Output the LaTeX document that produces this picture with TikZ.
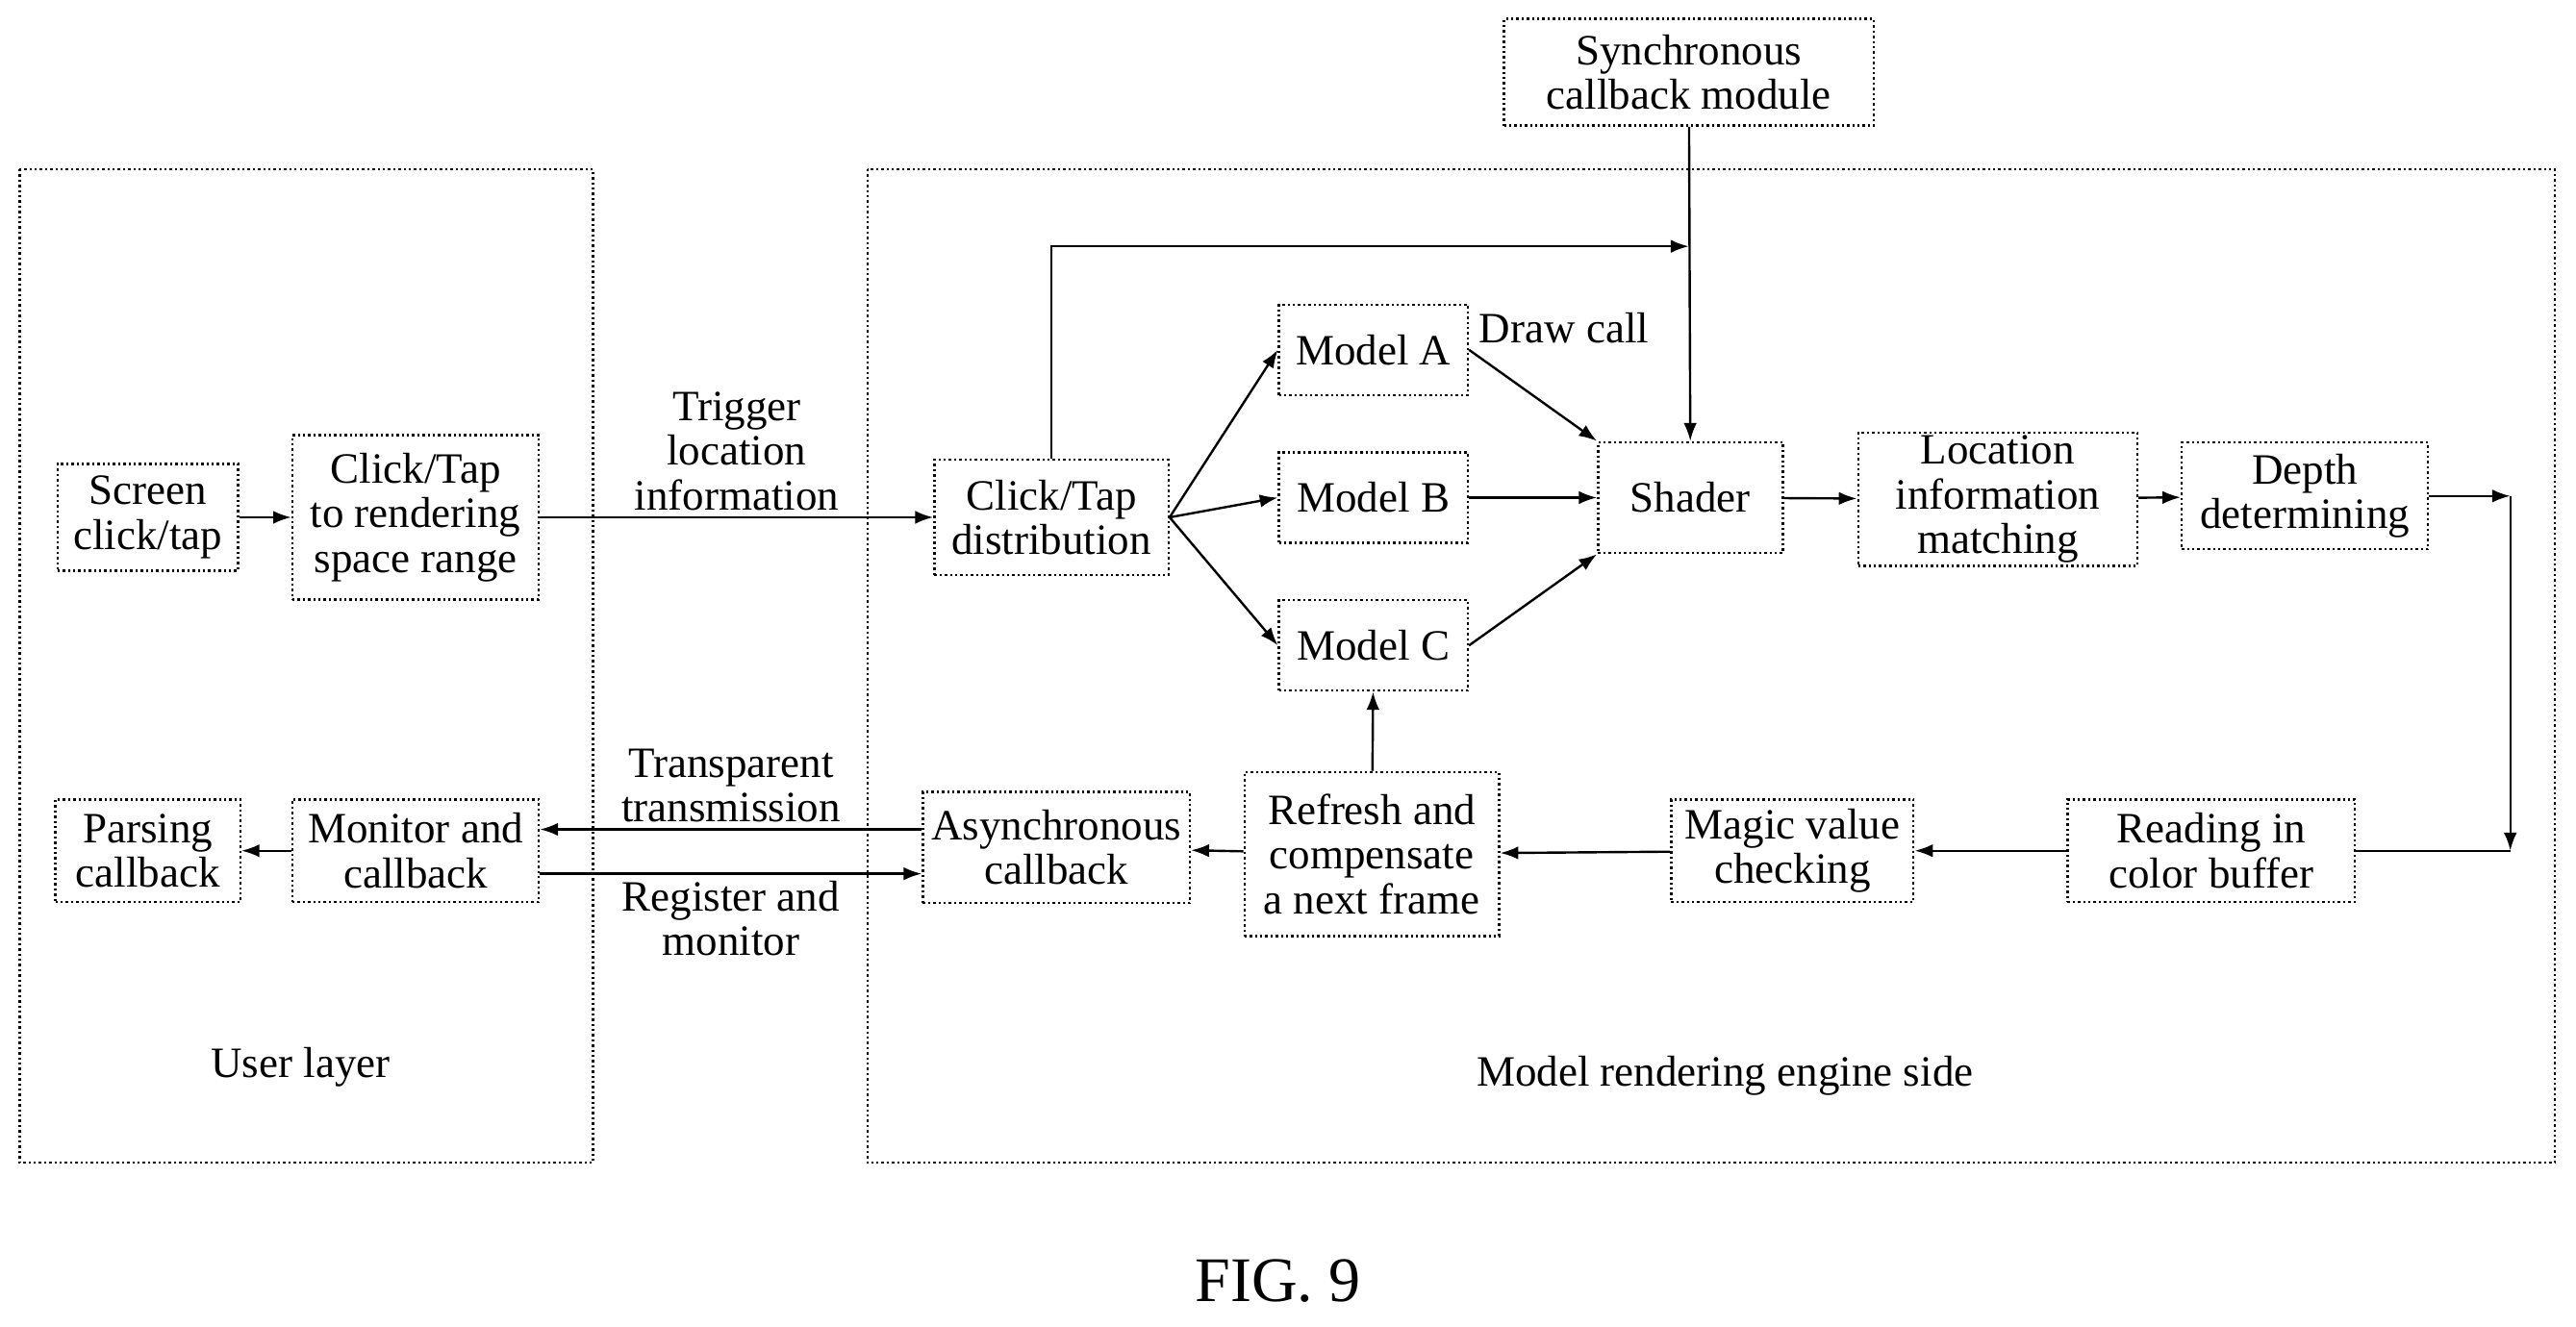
\documentclass[tikz,border=0pt]{standalone}
\usepackage{fontspec}
\setmainfont{Liberation Serif}
\usetikzlibrary{arrows.meta, positioning, calc}
\tikzset{
  box/.style={draw, densely dotted, thick, align=center, inner sep=1pt, font=\fontsize{15}{15.5}\selectfont},
  frame/.style={draw, densely dotted, thick},
  lbl/.style={align=center, inner sep=2pt, font=\fontsize{15}{15.5}\selectfont},
  arr/.style={-{Latex[length=2.2mm,width=1.6mm]}, thick}
}
\begin{document}
\begin{tikzpicture}[x=0.02cm, y=-0.02cm]
  \useasboundingbox (0,0) rectangle (1568,808);
  % frames
  \draw[frame] (12,103) rectangle (361,708);
  \draw[frame] (528,103) rectangle (1555,708);
  \node[lbl] (user) at (183,650) {User layer};
  \node[lbl] (engine) at (1050,655) {Model rendering engine side};
  % boxes
  \node[box, minimum width=4.5cm, minimum height=1.3cm] (sync) at (1028,44) {Synchronous\\callback module};
  \node[box, minimum width=2.2cm, minimum height=1.3cm] (screen) at (90,315) {Screen\\click/tap};
  \node[box, minimum width=3cm, minimum height=2cm] (range) at (253,315) {Click/Tap\\to rendering\\space range};
  \node[box, minimum width=2.85cm, minimum height=1.4cm] (dist) at (640,315) {Click/Tap\\distribution};
  \node[box, minimum width=2.3cm, minimum height=1.1cm] (ma) at (836,213) {Model A};
  \node[box, minimum width=2.3cm, minimum height=1.1cm] (mb) at (836,303) {Model B};
  \node[box, minimum width=2.3cm, minimum height=1.1cm] (mc) at (836,393) {Model C};
  \node[box, minimum width=2.25cm, minimum height=1.35cm] (shader) at (1029,303) {Shader};
  \node[box, minimum width=3.4cm, minimum height=1.45cm] (loc) at (1216,304) {Location\\information\\matching};
  \node[box, minimum width=3cm, minimum height=1.3cm] (depth) at (1403,302) {Depth\\determining};
  \node[box, minimum width=3.5cm, minimum height=1.25cm] (read) at (1346,518) {Reading in\\color buffer};
  \node[box, minimum width=2.95cm, minimum height=1.25cm] (magic) at (1091,518) {Magic value\\checking};
  \node[box, minimum width=3.1cm, minimum height=2cm] (refresh) at (835,520) {Refresh and\\compensate\\a next frame};
  \node[box, minimum width=3.25cm, minimum height=1.35cm] (async) at (643,516) {Asynchronous\\callback};
  \node[box, minimum width=3cm, minimum height=1.25cm] (monitor) at (253,518) {Monitor and\\callback};
  \node[box, minimum width=2.25cm, minimum height=1.25cm] (parse) at (90,518) {Parsing\\callback};
  \coordinate (join) at (1028,150);
  \coordinate (turn) at (1528,302);
  % connectors
  \draw[arr] (screen) -- (range);
  \draw[arr] (range) -- node[lbl, above] {Trigger\\location\\information} (dist);
  \foreach \m in {ma, mb, mc} {
    \draw[arr] (dist.east) -- (\m.west);
  }
  \draw[arr] (dist.north) |- (join);
  \draw[arr] (sync) -- (shader);
  \draw[arr] (ma.east) -- (shader.north west);
  \draw[arr] (mb) -- (shader);
  \draw[arr] (mc.east) -- (shader.south west);
  \node[lbl] (drawcall) at (952,200) {Draw call};
  \draw[arr] (shader) -- (loc);
  \draw[arr] (loc) -- (depth);
  \draw[arr] (depth) -- (turn);
  \draw[arr] (turn) -- (turn |- read);
  \draw[thick] (turn |- read) -- (read);
  \draw[arr] (read) -- (magic);
  \draw[arr] (magic) -- (refresh);
  \draw[arr] (refresh) -- (async);
  \draw[arr] (refresh) -- (mc);
  \draw[arr] (async.west |- 0,505) -- node[lbl, above] {Transparent\\transmission} (monitor.east |- 0,505);
  \draw[arr] (monitor.east |- 0,532) -- node[lbl, below] {Register and\\monitor} (async.west |- 0,532);
  \draw[arr] (monitor) -- (parse);
  \node[font=\fontsize{22}{24}\selectfont] (fig) at (778,780) {FIG. 9};
\end{tikzpicture}
\end{document}
